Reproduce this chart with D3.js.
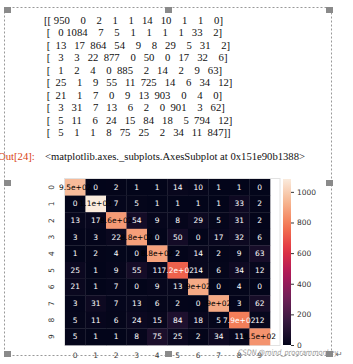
<!DOCTYPE html>
<html>
<head>
<meta charset="utf-8">
<script src="https://cdn.jsdelivr.net/npm/d3@7"></script>
<style>
body { margin:0; background:#fff; }
svg { display:block; }
</style>
</head>
<body>
<div class="container"></div>
<script>
// confusion matrix, rows = true class, cols = predicted
var classes = [0,1,2,3,4,5,6,7,8,9];
var confusion = [
	[950,0,2,1,1,14,10,1,1,0],
	[0,1084,7,5,1,1,1,1,33,2],
	[13,17,864,54,9,8,29,5,31,2],
	[3,3,22,877,0,50,0,17,32,6],
	[1,2,4,0,885,2,14,2,9,63],
	[25,1,9,55,11,725,14,6,34,12],
	[21,1,7,0,9,13,903,0,4,0],
	[3,31,7,13,6,2,0,901,3,62],
	[5,11,6,24,15,84,18,5,794,12],
	[5,1,1,8,75,25,2,34,11,847]
];
var cbarTicks = [0,200,400,600,800,1000];
var outPrompt = "Out[24]:";
var outText = "<matplotlib.axes._subplots.AxesSubplot at 0x151e90b1388>";

// rocket colormap, approx
var rocketStops = [0, 1/7, 2/7, 3/7, 4/7, 5/7, 6/7, 1];
var rocketCols = ["#03051a","#35193e","#701f57","#ad1759","#e13342","#f37651","#f6b48f","#faebdd"];

var W = 353, H = 364;
var svg = d3.select(".container").append("svg").attr("width",W).attr("height",H);

// numpy style print
function npRow(row, i) {
	var s = row.map(function(v){ return String(v).padStart(4," "); }).join(" ");
	return (i==0 ? "[[" : " [") + s + (i==confusion.length-1 ? "]]" : "]");
}
svg.append("g").selectAll("text")
	.data(confusion)
	.join("text")
	.attr("x",44)
	.attr("y",function(d,i){ return 23.5 + i*12.5; })
	.attr("xml:space","preserve")
	.style("white-space","pre")
	.style("font-family","'Liberation Serif', serif")
	.style("font-size","10.7px")
	.attr("fill","#111")
	.text(npRow);

svg.append("text").attr("x",-2).attr("y",160)
	.style("font-family","'Liberation Serif', serif").style("font-size","10.7px")
	.attr("fill","#d84315").text(outPrompt);
svg.append("text").attr("x",45).attr("y",160)
	.attr("textLength",260).attr("lengthAdjust","spacingAndGlyphs")
	.style("font-family","'Liberation Serif', serif").style("font-size","10.7px")
	.attr("fill","#111").text(outText);

// heatmap
var vmax = d3.max(confusion, function(r){ return d3.max(r); });
var x = d3.scaleBand().domain(classes).range([65,270]);
var y = d3.scaleBand().domain(classes).range([179,345]);
var color = d3.scaleLinear()
	.domain(rocketStops.map(function(s){ return s*vmax; }))
	.range(rocketCols)
	.interpolate(d3.interpolateRgb);

// python '%.2g'
function fmt(v) {
	if (v < 100) return String(v);
	var e = Math.floor(Math.log10(v));
	var sc = v / Math.pow(10, e-1);
	var r = Math.round(sc);
	if (Math.abs(sc - Math.floor(sc) - 0.5) < 1e-9) r = (Math.floor(sc)%2==0) ? Math.floor(sc) : Math.floor(sc)+1;
	if (r >= 100) { r = r/10; e += 1; }
	var d = Math.floor(r/10), f = r%10;
	return (f==0 ? d : d+"."+f) + "e+" + String(e).padStart(2,"0");
}
function lum(c) {
	var rgb = d3.rgb(c);
	var ch = [rgb.r,rgb.g,rgb.b].map(function(v){
		v = v/255; return v <= 0.03928 ? v/12.92 : Math.pow((v+0.055)/1.055, 2.4);
	});
	return 0.2126*ch[0] + 0.7152*ch[1] + 0.0722*ch[2];
}

svg.append("rect").attr("x",64.5).attr("y",178.5).attr("width",215.5).attr("height",167)
	.attr("fill","none").attr("stroke","#e2e2e2");

var cells = [];
confusion.forEach(function(row,i){ row.forEach(function(v,j){ cells.push({r:i,c:j,v:v}); }); });

var hm = svg.append("g");
hm.selectAll("rect").data(cells).join("rect")
	.attr("x",function(d){ return x(d.c); })
	.attr("y",function(d){ return y(d.r); })
	.attr("width",x.bandwidth()+0.3)
	.attr("height",y.bandwidth()+0.3)
	.attr("fill",function(d){ return color(d.v); });
hm.selectAll("text").data(cells).join("text")
	.attr("x",function(d){ return x(d.c)+x.bandwidth()/2; })
	.attr("y",function(d){ return y(d.r)+y.bandwidth()/2; })
	.attr("text-anchor","middle")
	.attr("dominant-baseline","central")
	.style("font-family","'DejaVu Sans', sans-serif")
	.style("font-size","7.5px")
	.attr("fill",function(d){ return lum(color(d.v)) > 0.408 ? "#000" : "#fff"; })
	.text(function(d){ return fmt(d.v); });

// tick labels
svg.append("g").selectAll("text").data(classes).join("text")
	.attr("transform",function(d){ return "translate(51," + (y(d)+y.bandwidth()/2) + ") rotate(-90)"; })
	.attr("text-anchor","middle").attr("dominant-baseline","central")
	.style("font-family","'DejaVu Sans', sans-serif").style("font-size","7.5px")
	.attr("fill","#333").text(function(d){ return d; });
svg.append("g").selectAll("text").data(classes).join("text")
	.attr("x",function(d){ return x(d)+x.bandwidth()/2; })
	.attr("y",357.5)
	.attr("text-anchor","middle")
	.style("font-family","'DejaVu Sans', sans-serif").style("font-size","7.5px")
	.attr("fill","#333").text(function(d){ return d; });

// colorbar
var cb = d3.scaleLinear().domain([0,vmax]).range([345,179]);
var grad = svg.append("defs").append("linearGradient").attr("id","cbg")
	.attr("x1",0).attr("y1",1).attr("x2",0).attr("y2",0);
grad.selectAll("stop").data(d3.range(0,1.0001,0.05)).join("stop")
	.attr("offset",function(d){ return d; })
	.attr("stop-color",function(d){ return color(d*vmax); });
svg.append("rect").attr("x",283).attr("y",179).attr("width",8).attr("height",166)
	.attr("fill","url(#cbg)");
var cax = svg.append("g").attr("transform","translate(291,0)")
	.call(d3.axisRight(cb).tickValues(cbarTicks).tickFormat(d3.format("d")).tickSize(3).tickPadding(3));
cax.select(".domain").remove();
cax.selectAll("line").attr("stroke","#333");
cax.selectAll("text").style("font-family","'DejaVu Sans', sans-serif").style("font-size","7.5px").attr("fill","#333");

// document frame + handles
svg.append("rect").attr("x",4.5).attr("y",7.5).attr("width",327).attr("height",348)
	.attr("fill","none").attr("stroke","#999").attr("stroke-dasharray","2,2");
var handles = [[4,7],[165,7],[326,7],[4,180],[326,180],[4,351],[165,351],[326,351]];
svg.append("g").selectAll("rect").data(handles).join("rect")
	.attr("x",function(d){ return d[0]; }).attr("y",function(d){ return d[1]; })
	.attr("width",7).attr("height",6).attr("fill","#8a8a8a");

svg.append("text").attr("x",238).attr("y",355)
	.attr("textLength",100).attr("lengthAdjust","spacingAndGlyphs")
	.style("font-family","'DejaVu Sans', sans-serif").style("font-size","7.5px").style("font-style","italic")
	.attr("fill","#888").attr("opacity",0.85).text("CSDN @mind_programmonkey");
svg.append("text").attr("x",336).attr("y",357)
	.style("font-family","'DejaVu Sans', sans-serif").style("font-size","8px")
	.attr("fill","#666").text("\u21b5");
</script>
</body>
</html>
